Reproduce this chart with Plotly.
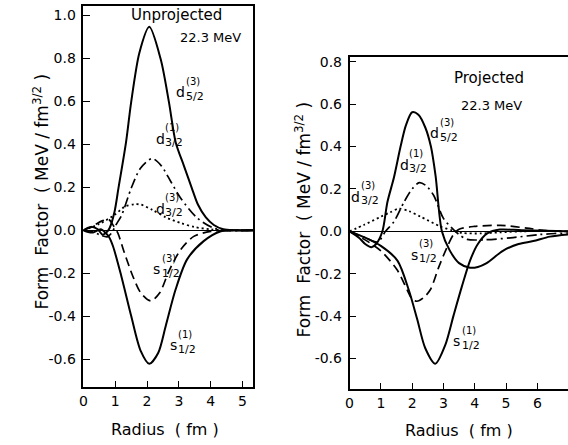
import plotly.graph_objects as go

# ---------------- data ----------------
# Left panel: Unprojected, 22.3 MeV
L_d52_x = [0, 0.15, 0.3, 0.45, 0.6, 0.72, 0.82, 0.98, 1.1, 1.34, 1.5, 1.76, 2.07, 2.43, 2.69, 2.9, 3.16, 3.4, 3.6, 3.85, 4.1, 4.4, 4.7, 5.33]
L_d52_y = [0, 0.012, 0.015, 0.005, -0.02, -0.01, 0.01, 0.088, 0.195, 0.41, 0.595, 0.826, 0.946, 0.795, 0.595, 0.41, 0.30, 0.2, 0.12, 0.06, 0.025, 0.005, 0.0, 0.0]

L_s11_x = [0, 0.15, 0.3, 0.45, 0.55, 0.65, 0.8, 0.93, 1.19, 1.5, 1.8, 2.07, 2.35, 2.59, 2.9, 3.26, 3.78, 4.3, 4.7, 5.33]
L_s11_y = [0, -0.008, -0.01, 0.0, 0.005, -0.005, -0.03, -0.074, -0.212, -0.397, -0.56, -0.62, -0.57, -0.443, -0.274, -0.135, -0.05, -0.005, 0.0, 0.0]

L_d31_x = [0, 0.3, 0.5, 0.75, 0.9, 1.0, 1.2, 1.5, 1.8, 2.16, 2.45, 2.75, 3.06, 3.58, 4.1, 4.5, 5.33]
L_d31_y = [0, -0.005, -0.02, -0.03, -0.01, 0.02, 0.07, 0.195, 0.29, 0.334, 0.30, 0.226, 0.149, 0.057, 0.01, 0.0, 0.0]

L_d33_x = [0, 0.5, 0.98, 1.3, 1.6, 1.8, 2.17, 2.6, 3.06, 3.5, 4.0, 4.5, 5.33]
L_d33_y = [0, 0.03, 0.072, 0.11, 0.121, 0.12, 0.095, 0.06, 0.034, 0.015, 0.005, 0.0, 0.0]

L_s13_x = [0, 0.3, 0.6, 0.8, 0.95, 1.08, 1.29, 1.55, 1.8, 2.12, 2.4, 2.69, 3.06, 3.47, 4.0, 4.5, 5.33]
L_s13_y = [0, 0.02, 0.045, 0.05, 0.02, -0.012, -0.105, -0.212, -0.29, -0.328, -0.29, -0.189, -0.089, -0.028, -0.005, 0.0, 0.0]

# Right panel: Projected, 22.3 MeV
R_d52_x = [0, 0.3, 0.5, 0.7, 0.85, 1.05, 1.21, 1.42, 1.63, 1.8, 2.0, 2.2, 2.42, 2.6, 2.75, 2.95, 3.2, 3.5, 3.85, 4.1, 4.38, 4.9, 5.4, 5.87, 6.4, 6.98]
R_d52_y = [0, -0.03, -0.06, -0.075, -0.06, 0.0, 0.138, 0.255, 0.4, 0.5, 0.562, 0.55, 0.49, 0.4, 0.26, 0.0, -0.09, -0.15, -0.172, -0.168, -0.15, -0.092, -0.06, -0.046, -0.025, -0.015]

R_s11_x = [0, 0.5, 1.0, 1.53, 1.89, 2.16, 2.42, 2.74, 3.06, 3.32, 3.59, 3.85, 4.1, 4.4, 4.8, 5.5, 6.98]
R_s11_y = [0, -0.03, -0.069, -0.138, -0.276, -0.414, -0.552, -0.625, -0.536, -0.399, -0.26, -0.138, -0.06, -0.01, 0.008, 0.005, 0.0]

R_s13_x = [0, 0.47, 1.0, 1.53, 1.84, 2.0, 2.15, 2.35, 2.58, 2.85, 3.11, 3.32, 3.5, 3.98, 4.82, 5.66, 6.3, 6.98]
R_s13_y = [0, -0.038, -0.092, -0.184, -0.276, -0.32, -0.33, -0.315, -0.276, -0.169, -0.077, -0.015, 0.01, 0.023, 0.028, 0.015, 0.003, 0.0]

R_d31_x = [0, 0.5, 0.9, 1.15, 1.42, 1.74, 2.0, 2.23, 2.45, 2.69, 3.0, 3.32, 3.5, 3.76, 4.29, 5.14, 6.08, 6.98]
R_d31_y = [0, -0.03, -0.05, 0.0, 0.046, 0.138, 0.2, 0.23, 0.215, 0.169, 0.061, 0.008, -0.015, -0.038, -0.04, -0.031, -0.015, -0.008]

R_d33_x = [0, 0.47, 1.0, 1.3, 1.58, 1.9, 2.27, 2.9, 3.3, 3.6, 4.2, 4.8, 5.5, 6.98]
R_d33_y = [0, 0.031, 0.069, 0.09, 0.107, 0.095, 0.069, 0.023, 0.003, -0.008, -0.01, -0.005, 0.0, 0.0]

# ticks
L_xticks = [0, 1, 2, 3, 4, 5]
L_yticks = [1.0, 0.8, 0.6, 0.4, 0.2, 0.0, -0.2, -0.4, -0.6]
R_xticks = [0, 1, 2, 3, 4, 5, 6]
R_yticks = [0.8, 0.6, 0.4, 0.2, 0.0, -0.2, -0.4, -0.6]

# curve labels: (letter, superscript, subscript, x, y)
L_labels = [("d", "(3)", "5/2", 3.06, 0.641),
            ("d", "(1)", "3/2", 2.42, 0.425),
            ("d", "(3)", "3/2", 2.42, 0.100),
            ("s", "(3)", "1/2", 2.30, -0.180),
            ("s", "(1)", "1/2", 2.82, -0.535)]
R_labels = [("d", "(3)", "5/2", 2.72, 0.463),
            ("d", "(1)", "3/2", 1.74, 0.315),
            ("d", "(3)", "3/2", 0.20, 0.162),
            ("s", "(3)", "1/2", 2.06, -0.111),
            ("s", "(1)", "1/2", 3.42, -0.519)]

# ---------------- figure ----------------
FONT = "DejaVu Sans"
fig = go.Figure()

styles = {"solid": dict(color="black", width=2.0),
          "dash": dict(color="black", width=1.7, dash="9px,5px"),
          "dashdot": dict(color="black", width=1.7, dash="10px,4px,2px,4px"),
          "dot": dict(color="black", width=1.8, dash="2px,3px")}

def add(x, y, style, xa, ya):
    fig.add_trace(go.Scatter(x=x, y=y, mode="lines", line=dict(shape="spline", smoothing=0.8, **styles[style]),
                             xaxis=xa, yaxis=ya, showlegend=False, hoverinfo="skip"))

add(L_d52_x, L_d52_y, "solid", "x", "y")
add(L_s11_x, L_s11_y, "solid", "x", "y")
add(L_d31_x, L_d31_y, "dashdot", "x", "y")
add(L_d33_x, L_d33_y, "dot", "x", "y")
add(L_s13_x, L_s13_y, "dash", "x", "y")

add(R_d52_x, R_d52_y, "solid", "x2", "y2")
add(R_s11_x, R_s11_y, "solid", "x2", "y2")
add(R_d31_x, R_d31_y, "dashdot", "x2", "y2")
add(R_d33_x, R_d33_y, "dot", "x2", "y2")
add(R_s13_x, R_s13_y, "dash", "x2", "y2")

W, H = 568, 445

def fmt(v):
    return "0.0" if v == 0 else ("%.1f" % v)

axis_common = dict(showline=True, linecolor="black", linewidth=1.5, ticks="inside", ticklen=7,
                   tickwidth=1.3, tickcolor="black", showgrid=False,
                   tickfont=dict(family=FONT, size=14, color="black"), fixedrange=True)

annotations = []

def curve_labels(labels, xr, yr):
    for (letter, sup, sub, x, y) in labels:
        annotations.append(dict(x=x, y=y, xref=xr, yref=yr, text=letter, showarrow=False,
                                xanchor="center", yanchor="middle",
                                font=dict(family=FONT, size=14, color="black")))
        annotations.append(dict(x=x, y=y, xref=xr, yref=yr, text=sup, showarrow=False, xanchor="left",
                                yanchor="middle", xshift=3, yshift=11,
                                font=dict(family=FONT, size=10, color="black")))
        annotations.append(dict(x=x, y=y, xref=xr, yref=yr, text=sub, showarrow=False, xanchor="left",
                                yanchor="middle", xshift=3, yshift=-4,
                                font=dict(family=FONT, size=11, color="black")))

curve_labels(L_labels, "x", "y")
curve_labels(R_labels, "x2", "y2")

def centered(**kw):
    d = dict(showarrow=False, xanchor="center", yanchor="middle")
    d.update(kw)
    return d

YTITLE = "Form  Factor  ( MeV / fm<sup>3/2</sup> )"

annotations += [
    centered(x=2.93, y=1.0, xref="x", yref="y", text="Unprojected",
             font=dict(family=FONT, size=15, color="black")),
    centered(x=3.99, y=0.895, xref="x", yref="y", text="22.3 MeV",
             font=dict(family=FONT, size=13, color="black")),
    centered(x=4.47, y=0.725, xref="x2", yref="y2", text="Projected",
             font=dict(family=FONT, size=15, color="black")),
    centered(x=4.53, y=0.595, xref="x2", yref="y2", text="22.3 MeV",
             font=dict(family=FONT, size=13, color="black")),
    # axis titles
    centered(x=162 / W, y=1 - 429 / H, xref="paper", yref="paper", text="Radius  ( fm )",
             font=dict(family=FONT, size=16, color="black")),
    centered(x=458 / W, y=1 - 430 / H, xref="paper", yref="paper", text="Radius  ( fm )",
             font=dict(family=FONT, size=16, color="black")),
    centered(x=37 / W, y=1 - 190 / H, xref="paper", yref="paper", textangle=-90,
             text=YTITLE, font=dict(family=FONT, size=17, color="black")),
    centered(x=301 / W, y=1 - 218 / H, xref="paper", yref="paper", textangle=-90,
             text=YTITLE, font=dict(family=FONT, size=17, color="black")),
]

fig.update_layout(
    width=W, height=H, margin=dict(l=0, r=0, t=0, b=0),
    paper_bgcolor="white", plot_bgcolor="white", showlegend=False,
    xaxis=dict(domain=[80 / W, 250.7 / W], range=[0, 5.33], tickvals=L_xticks,
               ticktext=[str(v) for v in L_xticks], mirror=True, zeroline=False,
               ticklabelstandoff=0, anchor="y", **axis_common),
    yaxis=dict(domain=[1 - 387 / H, 1 - 3 / H], range=[-0.73, 1.043], tickvals=L_yticks,
               ticktext=[fmt(v) for v in L_yticks], mirror=True, zeroline=True,
               zerolinecolor="black", zerolinewidth=1.2, ticklabelstandoff=3, anchor="x", **axis_common),
    xaxis2=dict(domain=[348 / W, 1.0], range=[0, 6.98], tickvals=R_xticks,
                ticktext=[str(v) for v in R_xticks], mirror=True, zeroline=False,
                ticklabelstandoff=0, anchor="y2", **axis_common),
    yaxis2=dict(domain=[1 - 389 / H, 1 - 54.3 / H], range=[-0.746, 0.823], tickvals=R_yticks,
                ticktext=[fmt(v) for v in R_yticks], mirror=False, zeroline=True,
                zerolinecolor="black", zerolinewidth=1.2, ticklabelstandoff=3, anchor="x2", **axis_common),
    annotations=annotations,
)

fig.write_html("out.html", config={"displayModeBar": False},
               post_script="document.body.style.margin='0';document.body.style.overflow='hidden';")
